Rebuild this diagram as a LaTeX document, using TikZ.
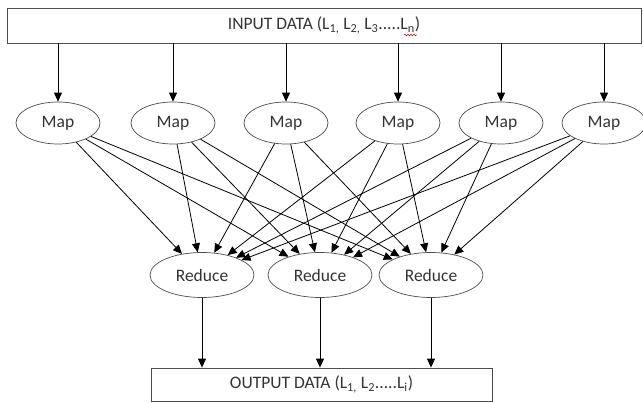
\documentclass[tikz,border=0pt]{standalone}
\usepackage{fontspec}
\setmainfont{Carlito}
\usetikzlibrary{arrows.meta,shapes.geometric,decorations.pathmorphing}
\begin{document}
\begin{tikzpicture}[x=1pt,y=-1pt,
  every node/.style={font=\fontsize{17.5}{20}\selectfont, text=black!80},
  databox/.style={draw=black!70, line width=0.8pt, rectangle, inner sep=0pt},
  mapnode/.style={draw=black!70, line width=0.7pt, ellipse, minimum width=84pt, minimum height=42pt, inner sep=0pt},
  rednode/.style={draw=black!70, line width=0.7pt, ellipse, minimum width=104pt, minimum height=45pt, inner sep=0pt},
  flow/.style={draw=black, line width=0.9pt, -{Triangle[length=9pt,width=8pt]}}]
\useasboundingbox (0,0) rectangle (643,403);
% input and output boxes
\node[databox, minimum width=634pt, minimum height=35pt] (in) at (324,25.5) {INPUT DATA (L\textsubscript{1,} L\textsubscript{2,} L\textsubscript{3}.....L\textsubscript{n})};
\node[databox, minimum width=341pt, minimum height=33pt] (out) at (321.5,384.5) {OUTPUT DATA (L\textsubscript{1,} L\textsubscript{2}.....L\textsubscript{i})};
% spell-check squiggle under the last item
\draw[red!80!black, line width=0.5pt, decorate, decoration={snake, amplitude=0.8pt, segment length=3pt}] (404,35) -- (417,35);
% map stage
\foreach \i/\x in {1/58,2/173,3/286,4/398,5/501,6/604} {
  \node[mapnode] (m\i) at (\x,123) {Map};
  \draw[flow] (in.south -| m\i) -- (m\i);
}
% reduce stage
\foreach \j/\x in {1/202,2/320,3/431} {
  \node[rednode] (r\j) at (\x,275) {Reduce};
  \draw[flow] (r\j) -- (out.north -| r\j);
}
% every map feeds every reduce
\foreach \i in {1,...,6} {
  \foreach \j in {1,2,3} {
    \draw[flow, line width=0.8pt] (m\i) -- (r\j);
  }
}
\end{tikzpicture}
\end{document}
